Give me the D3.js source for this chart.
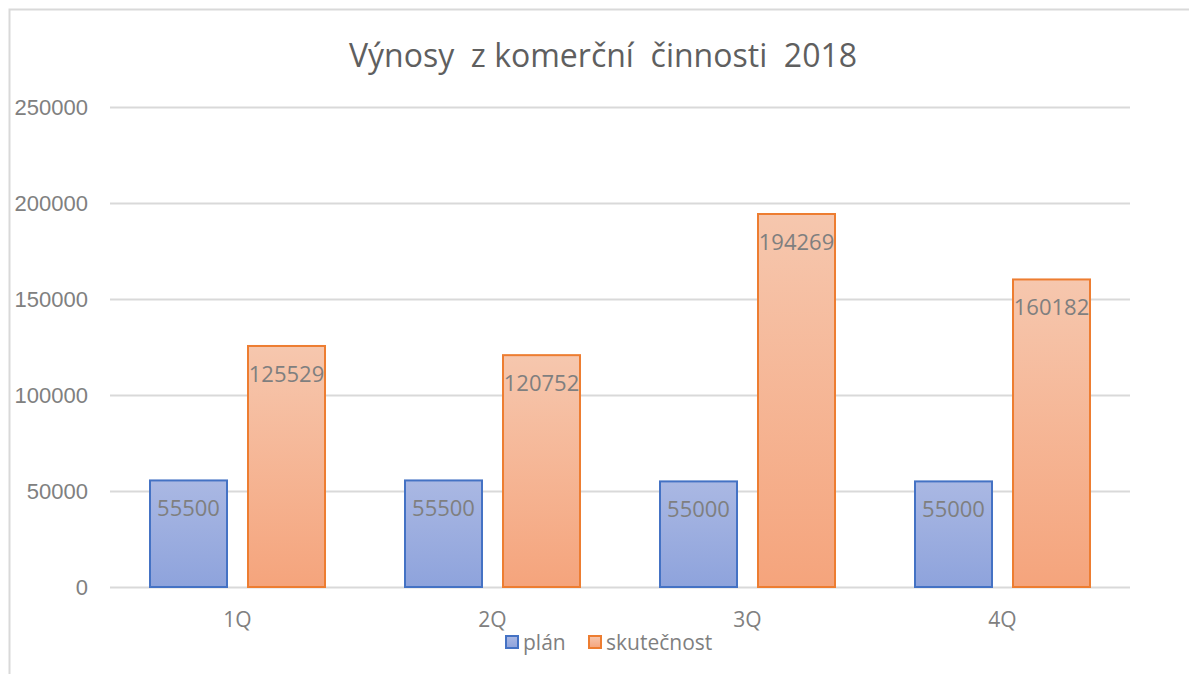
<!DOCTYPE html>
<html>
<head>
<meta charset="utf-8">
<script src="https://cdn.jsdelivr.net/npm/d3@7"></script>
<style>
body{margin:0;background:#fff;}
svg{display:block;font-family:"Open Sans",sans-serif;}
</style>
</head>
<body>
<svg id="chart" width="1189" height="674"></svg>
<script>
// data
let categories = ['1Q','2Q','3Q','4Q'];
let seriesNames = ['plán','skutečnost'];
let planVals = [55500, 55500, 55000, 55000];
let skutVals = [125529, 120752, 194269, 160182];
let yTicks = [0, 50000, 100000, 150000, 200000, 250000];
let title = 'Výnosy  z komerční  činnosti  2018';

let colors = {
    'plán': {stroke:'#4472c4', top:'#aab8e3', bot:'#8ea3dc'},
    'skutečnost': {stroke:'#ed7d31', top:'#f6c7ae', bot:'#f5a47c'}
};

function drawChart(target){
    let chart = d3.select(target);
    let W = 1189, H = 674;
    let left = 110, right = 1130, top = 107, bottom = 587;

    let tdata = categories.map((c,i)=>({cat:c, vals:[
        {key:seriesNames[0], val:planVals[i]},
        {key:seriesNames[1], val:skutVals[i]}
    ]}));

    let defs = chart.append('defs');
    seriesNames.forEach((s,i)=>{
        let g = defs.append('linearGradient').attr('id','grad'+i)
            .attr('x1',0).attr('y1',0).attr('x2',0).attr('y2',1);
        g.append('stop').attr('offset','0%').attr('stop-color',colors[s].top);
        g.append('stop').attr('offset','100%').attr('stop-color',colors[s].bot);
    });

    // frame (left + top only visible)
    chart.append('path').attr('d',`M9.5,${H} L9.5,9.5 L${W},9.5`)
        .attr('fill','none').attr('stroke','#d9d9d9').attr('stroke-width',2);

    let y = d3.scaleLinear().domain([0,250000]).range([bottom, top]);
    let x0 = d3.scaleBand().domain(categories).range([left, right])
        .paddingInner(78/255).paddingOuter(39/255);
    let x1 = d3.scaleBand().domain(seriesNames).range([0, x0.bandwidth()])
        .paddingInner(19/98);

    // gridlines
    let yAxis = d3.axisLeft(y).tickValues(yTicks).tickSize(-(right-left)).tickPadding(22)
        .tickFormat(d3.format('d'));
    let ga = chart.append('g').attr('transform',`translate(${left},0)`).call(yAxis);
    ga.select('.domain').remove();
    ga.selectAll('line').attr('stroke','#d9d9d9').attr('stroke-width',2);
    ga.selectAll('text').attr('fill','#808080').style('font-size','22px').attr('dy','0.35em');

    // bars
    let groups = chart.append('g').selectAll('g').data(tdata).join('g')
        .attr('transform', d=>`translate(${x0(d.cat)},0)`);
    groups.selectAll('rect').data(d=>d.vals).join('rect')
        .attr('x', d=>x1(d.key)+1)
        .attr('y', d=>y(d.val))
        .attr('width', x1.bandwidth()-2)
        .attr('height', d=>bottom-y(d.val))
        .attr('fill', (d)=>`url(#grad${seriesNames.indexOf(d.key)})`)
        .attr('stroke', d=>colors[d.key].stroke)
        .attr('stroke-width',2);
    groups.selectAll('text').data(d=>d.vals).join('text')
        .attr('x', d=>x1(d.key)+x1.bandwidth()/2)
        .attr('y', d=>y(d.val)+36)
        .attr('text-anchor','middle')
        .attr('fill','#7f7f7f').style('font-size','22px')
        .text(d=>d.val);

    // x axis labels
    chart.append('g').selectAll('text').data(categories).join('text')
        .attr('x', d=>x0(d)+x0.bandwidth()/2)
        .attr('y', 627)
        .attr('text-anchor','middle')
        .attr('fill','#808080').style('font-size','21px')
        .text(d=>d);

    // title
    chart.append('text').attr('x',603).attr('y',67).attr('text-anchor','middle')
        .attr('fill','#5f5f5f').style('font-size','32px').style('white-space','pre')
        .text(title);

    // legend
    let leg = chart.append('g').attr('transform','translate(505,643)');
    let lx = [0, 83];
    seriesNames.forEach((s,i)=>{
        let li = leg.append('g').attr('transform',`translate(${lx[i]},0)`);
        li.append('rect').attr('x',1).attr('y',-7).attr('width',12).attr('height',12)
            .attr('fill',`url(#grad${i})`).attr('stroke',colors[s].stroke).attr('stroke-width',2);
        li.append('text').attr('x',18).attr('y',7).attr('fill','#7f7f7f')
            .style('font-size','21px').text(s);
    });
}
drawChart('#chart');
</script>
</body>
</html>
